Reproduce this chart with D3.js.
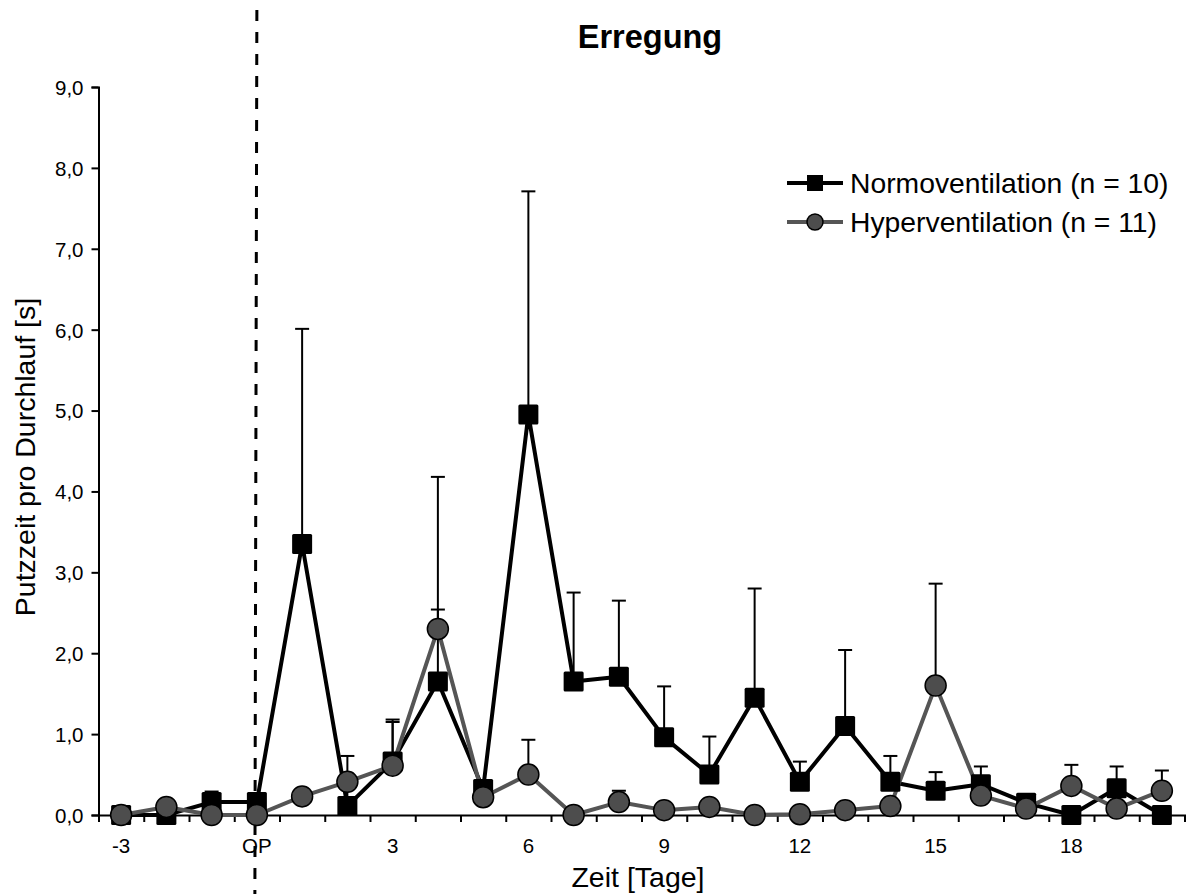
<html>
<head>
<meta http-equiv="Content-Type" content="text/html; charset=utf-8" />
<title>Erregung</title>
<script src="https://cdn.jsdelivr.net/npm/d3@7"></script>
<style type="text/css">
	body{
		margin: 0;
		background: #fff;
	}
	svg text{
		font-family: "Liberation Sans", Arial, sans-serif;
		fill: #000;
	}
</style>
</head>
<body>
<div id="chart"></div>

<script type="text/javascript">
	// Tage -3 .. 20, OP = Tag 0
	var days = [-3,-2,-1,0,1,2,3,4,5,6,7,8,9,10,11,12,13,14,15,16,17,18,19,20];
	var dayLabels = [[-3,"-3"],[0,"OP"],[3,"3"],[6,"6"],[9,"9"],[12,"12"],[15,"15"],[18,"18"]];
	var yTicks = [0,1,2,3,4,5,6,7,8,9];

	var normo   = [0,0,0.16,0.16,3.35,0.11,0.66,1.65,0.32,4.95,1.65,1.71,0.96,0.5,1.45,0.41,1.1,0.41,0.3,0.38,0.15,0,0.33,0];
	var normoSD = [0,0,0.13,0,2.66,0.62,0.49,2.53,0,2.76,1.1,0.94,0.63,0.47,1.35,0.25,0.94,0.32,0.23,0.22,0,0,0.27,0];
	var hyper   = [0,0.1,0,0,0.23,0.41,0.61,2.3,0.22,0.5,0,0.16,0.06,0.1,0,0.01,0.06,0.11,1.6,0.24,0.08,0.36,0.08,0.3];
	var hyperSD = [0,0,0,0,0,0,0.57,0.24,0,0.43,0,0.14,0,0,0,0,0,0,1.26,0,0,0.26,0,0.25];

	var W = 1190, H = 894;
	var svg = d3.select("#chart").append("svg")
		.attr("width", W)
		.attr("height", H);

	var x = d3.scaleLinear().domain([-3.5, 20.5]).range([98.5, 1184.5]);
	var y = d3.scaleLinear().domain([0, 9]).range([815, 87]);

	// title
	svg.append("text")
		.attr("x", 650).attr("y", 48)
		.attr("text-anchor", "middle")
		.style("font-size", "32.5px")
		.style("font-weight", "bold")
		.text("Erregung");

	// OP line
	svg.append("line")
		.attr("x1", x(0)).attr("x2", x(0) - 2)
		.attr("y1", 10).attr("y2", H)
		.attr("stroke", "#000")
		.attr("stroke-width", 3)
		.attr("stroke-dasharray", "11,11");

	// y axis
	var yAxis = svg.append("g")
		.attr("transform", "translate(" + x(-3.5) + ",0)")
		.call(d3.axisLeft(y).tickValues(yTicks).tickSize(7).tickPadding(8)
			.tickFormat(function(d){ return d3.format(".1f")(d).replace(".", ","); }));
	yAxis.select(".domain").attr("stroke-width", 2);
	yAxis.selectAll(".tick line").attr("stroke-width", 2);
	yAxis.selectAll("text").style("font-size", "20.5px").attr("dy", "0.36em");

	// x axis: ticks between days, labels every 3rd day
	var xAxis = svg.append("g")
		.attr("transform", "translate(0," + y(0) + ")")
		.call(d3.axisBottom(x).tickValues(d3.range(-2.5, 21, 1)).tickSize(7).tickFormat(""));
	xAxis.select(".domain").attr("stroke-width", 2);
	xAxis.selectAll(".tick line").attr("stroke-width", 2);

	svg.append("g").selectAll("text")
		.data(dayLabels)
		.enter()
		.append("text")
		.attr("x", function(d){ return x(d[0]); })
		.attr("y", 853)
		.attr("text-anchor", "middle")
		.style("font-size", "20.5px")
		.text(function(d){ return d[1]; });

	// axis titles
	svg.append("text")
		.attr("x", 638).attr("y", 887)
		.attr("text-anchor", "middle")
		.style("font-size", "28.5px")
		.text("Zeit [Tage]");
	svg.append("text")
		.attr("transform", "translate(35,457) rotate(-90)")
		.attr("text-anchor", "middle")
		.style("font-size", "28.5px")
		.text("Putzzeit pro Durchlauf [s]");

	var line = d3.line()
		.x(function(d, i){ return x(days[i]); })
		.y(function(d){ return y(d); });

	svg.append("path").datum(normo)
		.attr("d", line)
		.attr("fill", "none")
		.attr("stroke", "#000")
		.attr("stroke-width", 4)
		.attr("stroke-linejoin", "round");
	svg.append("path").datum(hyper)
		.attr("d", line)
		.attr("fill", "none")
		.attr("stroke", "#555")
		.attr("stroke-width", 4)
		.attr("stroke-linejoin", "round");

	// error bars (upper only)
	function errBars(means, sds){
		var g = svg.append("g").attr("stroke", "#000").attr("stroke-width", 2);
		days.forEach(function(dd, i){
			if (!sds[i]) return;
			var top = y(means[i] + sds[i]);
			g.append("line")
				.attr("x1", x(dd)).attr("x2", x(dd))
				.attr("y1", y(means[i])).attr("y2", top);
			g.append("line")
				.attr("x1", x(dd) - 7).attr("x2", x(dd) + 7)
				.attr("y1", top).attr("y2", top);
		});
	}
	errBars(normo, normoSD);
	errBars(hyper, hyperSD);

	svg.append("g").selectAll("rect")
		.data(normo)
		.enter()
		.append("rect")
		.attr("x", function(d, i){ return x(days[i]) - 10; })
		.attr("y", function(d){ return y(d) - 10; })
		.attr("width", 20)
		.attr("height", 20)
		.attr("rx", 1.5)
		.attr("fill", "#000");

	svg.append("g").selectAll("circle")
		.data(hyper)
		.enter()
		.append("circle")
		.attr("cx", function(d, i){ return x(days[i]); })
		.attr("cy", function(d){ return y(d); })
		.attr("r", 10.5)
		.attr("fill", "#4d4d4d")
		.attr("stroke", "#000")
		.attr("stroke-width", 1.5);

	// legend
	var leg = svg.append("g");
	leg.append("line")
		.attr("x1", 787).attr("x2", 843).attr("y1", 183).attr("y2", 183)
		.attr("stroke", "#000").attr("stroke-width", 4);
	leg.append("rect")
		.attr("x", 807).attr("y", 175).attr("width", 16).attr("height", 16)
		.attr("fill", "#000");
	leg.append("text")
		.attr("x", 850).attr("y", 193)
		.style("font-size", "28.3px")
		.text("Normoventilation (n = 10)");

	leg.append("line")
		.attr("x1", 787).attr("x2", 843).attr("y1", 222).attr("y2", 222)
		.attr("stroke", "#555").attr("stroke-width", 4);
	leg.append("circle")
		.attr("cx", 815).attr("cy", 222).attr("r", 8)
		.attr("fill", "#4d4d4d").attr("stroke", "#000").attr("stroke-width", 1.5);
	leg.append("text")
		.attr("x", 850).attr("y", 232)
		.style("font-size", "28.3px")
		.text("Hyperventilation (n = 11)");
</script>
</body>
</html>
